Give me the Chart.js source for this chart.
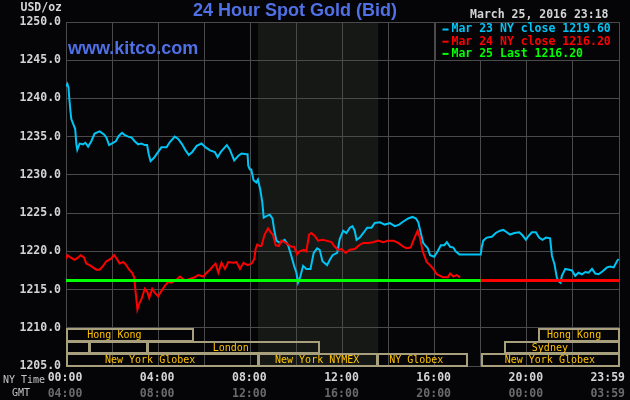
<!DOCTYPE html>
<html>
<head>
<meta charset="utf-8">
<script src="https://cdn.jsdelivr.net/npm/chart.js@4.4.1/dist/chart.umd.min.js"></script>
<style>
  html, body { margin: 0; padding: 0; background: #050508; }
  canvas { display: block; }
</style>
</head>
<body>
<canvas id="c" width="630" height="400"></canvas>
<script>
// ---------- DATA ----------
const cyanHours = [0.00,0.06,0.11,0.14,0.19,0.23,0.32,0.40,0.45,0.49,0.59,0.74,0.84,0.96,1.10,1.24,1.46,1.65,1.75,1.87,2.04,2.16,2.29,2.43,2.55,2.70,2.84,2.98,3.13,3.27,3.42,3.52,3.59,3.67,3.81,4.00,4.14,4.36,4.51,4.72,4.87,5.04,5.19,5.33,5.48,5.67,5.88,6.06,6.25,6.46,6.58,6.72,6.98,7.11,7.30,7.48,7.62,7.84,7.88,7.91,7.98,8.04,8.14,8.26,8.33,8.43,8.52,8.58,8.70,8.84,8.96,9.03,9.13,9.27,9.49,9.64,9.78,9.90,10.00,10.07,10.17,10.29,10.43,10.61,10.75,10.90,11.01,11.13,11.33,11.45,11.57,11.77,11.88,12.03,12.17,12.32,12.43,12.53,12.61,12.75,12.93,13.07,13.26,13.40,13.62,13.84,14.06,14.27,14.46,14.64,14.85,15.04,15.19,15.29,15.39,15.50,15.58,15.70,15.80,15.98,16.13,16.27,16.42,16.53,16.67,16.81,16.91,17.07,18.00,18.04,18.11,18.26,18.48,18.65,18.84,18.98,19.13,19.27,19.46,19.67,19.81,19.96,20.07,20.22,20.39,20.53,20.68,20.83,21.01,21.09,21.20,21.30,21.37,21.46,21.52,21.67,21.84,21.96,22.10,22.24,22.39,22.54,22.68,22.83,22.97,23.11,23.29,23.48,23.62,23.77,23.91,23.98];
const cyanValues = [1241.6,1241.9,1241.4,1240.1,1238.4,1237.3,1236.6,1236.0,1234.0,1233.3,1234.1,1234.0,1234.2,1233.7,1234.4,1235.4,1235.7,1235.3,1234.9,1233.9,1234.2,1234.4,1235.1,1235.5,1235.2,1235.0,1234.9,1234.4,1234.0,1234.1,1233.9,1233.9,1232.7,1231.8,1232.2,1233.0,1233.6,1233.6,1234.3,1235.0,1234.7,1234.0,1233.2,1232.6,1233.0,1233.8,1234.1,1233.6,1233.2,1233.0,1232.3,1233.0,1233.9,1233.3,1231.9,1232.5,1232.8,1232.7,1232.7,1231.2,1230.7,1230.7,1229.3,1229.0,1229.4,1228.1,1226.4,1224.4,1224.6,1224.8,1224.3,1222.9,1221.4,1221.1,1221.5,1220.8,1219.4,1218.1,1217.2,1215.9,1216.7,1218.1,1217.7,1217.7,1219.8,1220.4,1220.2,1218.7,1218.2,1218.9,1219.5,1219.8,1221.6,1222.7,1222.4,1223.1,1223.3,1222.7,1221.5,1221.8,1222.5,1223.1,1223.1,1223.7,1223.8,1223.5,1223.7,1223.3,1223.5,1223.9,1224.3,1224.5,1224.3,1223.8,1222.5,1221.1,1220.8,1220.4,1219.5,1219.3,1220.0,1220.8,1220.8,1221.2,1220.6,1220.5,1220.0,1219.6,1219.6,1220.5,1221.4,1221.8,1221.9,1222.4,1222.7,1222.8,1222.5,1222.2,1222.4,1222.5,1222.1,1221.5,1222.0,1222.5,1222.5,1221.8,1221.5,1221.8,1221.7,1219.4,1218.3,1216.6,1216.1,1215.9,1216.8,1217.7,1217.6,1217.5,1216.8,1217.2,1217.0,1217.3,1217.2,1217.7,1217.1,1217.0,1217.4,1217.9,1218.0,1217.9,1218.7,1219.0];

const redHours = [0.00,0.06,0.20,0.37,0.49,0.64,0.78,0.88,1.03,1.17,1.32,1.46,1.61,1.75,1.94,2.09,2.19,2.33,2.48,2.59,2.74,2.87,2.96,3.01,3.10,3.17,3.27,3.42,3.53,3.61,3.74,3.85,4.00,4.14,4.29,4.43,4.58,4.80,4.94,5.16,5.37,5.59,5.74,5.96,6.10,6.25,6.39,6.49,6.61,6.75,6.90,7.04,7.26,7.40,7.55,7.70,7.88,8.06,8.17,8.23,8.30,8.40,8.48,8.62,8.77,8.91,8.98,9.10,9.24,9.35,9.49,9.64,9.78,9.90,10.03,10.14,10.32,10.43,10.55,10.65,10.80,10.94,11.13,11.30,11.52,11.67,11.81,11.96,12.14,12.32,12.53,12.72,12.90,13.11,13.33,13.55,13.77,13.98,14.20,14.42,14.64,14.78,14.96,15.10,15.26,15.36,15.48,15.58,15.65,15.80,15.94,16.09,16.23,16.37,16.57,16.67,16.81,16.96,17.10];
const redValues = [1219.0,1219.5,1219.2,1218.9,1219.1,1219.5,1219.2,1218.4,1218.2,1217.9,1217.6,1217.6,1218.1,1218.7,1219.0,1219.5,1219.1,1218.4,1218.6,1218.3,1217.6,1217.2,1216.6,1215.0,1212.4,1213.1,1213.7,1215.1,1214.7,1213.9,1215.1,1214.6,1214.1,1214.8,1215.5,1216.0,1215.9,1216.3,1216.7,1216.2,1216.4,1216.6,1216.9,1216.7,1217.2,1217.6,1218.1,1218.4,1217.2,1218.5,1217.7,1218.6,1218.5,1218.6,1217.7,1218.5,1218.2,1218.4,1219.0,1220.3,1220.9,1220.7,1220.7,1222.2,1223.0,1222.4,1222.2,1220.8,1220.7,1221.4,1221.2,1220.9,1220.6,1220.6,1219.6,1220.0,1220.2,1220.0,1222.2,1222.4,1222.0,1221.4,1221.5,1221.4,1221.2,1220.6,1220.2,1220.3,1219.8,1220.2,1220.3,1220.8,1221.1,1221.1,1221.2,1221.4,1221.2,1221.4,1221.4,1221.1,1220.6,1220.4,1220.5,1221.6,1222.7,1221.8,1220.0,1219.2,1218.6,1218.2,1217.7,1217.0,1216.8,1216.6,1216.6,1217.1,1216.7,1216.9,1216.6];

const redCloseHours = [18, 24];
const redCloseValues = [1216.2, 1216.2];
const greenHours = [0, 18];
const greenValues = [1216.2, 1216.2];

const legendLabels = ['Mar 23 NY close 1219.60', 'Mar 24 NY close 1216.20', 'Mar 25 Last 1216.20'];

const yTicks = [1205,1210,1215,1220,1225,1230,1235,1240,1245,1250];
const xTickHours = [0, 4, 8, 12, 16, 20, 23.983];
const nyTimeLabels = ['00:00','04:00','08:00','12:00','16:00','20:00','23:59'];
const gmtLabels = ['04:00','08:00','12:00','16:00','20:00','00:00','03:59'];

// market sessions (hours NY time), row 0 = top
const sessionNames = ['Hong Kong','Hong Kong','','','London','Sydney','New York Globex','New York NYMEX','NY Globex','New York Globex'];
const sessionStart = [0, 20.5, 0, 1, 3.5, 19, 0, 8.33, 13.5, 18];
const sessionEnd   = [5.5, 24, 1, 3.5, 11, 24, 8.33, 13.5, 17.4, 24];
const sessionRow   = [0, 0, 1, 1, 1, 1, 2, 2, 2, 2];
const sessionLabelAt = [2.1, 22.05, 0, 0, 7.15, 21.0, 3.65, 10.9, 15.2, 21.0];

const pitStart = 8.333, pitEnd = 13.55;

// ---------- CHART ----------
const MONO = '"DejaVu Sans Mono", monospace';
const toXY = (hs, vs) => hs.map((h, i) => ({ x: h, y: vs[i] }));

const decor = {
  id: 'decor',
  beforeDraw(chart) {
    const { ctx, chartArea: a, scales: { x } } = chart;
    ctx.save();
    ctx.fillStyle = '#050508';
    ctx.fillRect(0, 0, chart.width, chart.height);
    const x0 = x.getPixelForValue(pitStart), x1 = x.getPixelForValue(pitEnd);
    ctx.fillStyle = '#151815';
    ctx.fillRect(x0, a.top, x1 - x0, a.bottom - a.top);
    ctx.restore();
  },
  afterDraw(chart) {
    const { ctx, chartArea: a, scales: { x, y } } = chart;
    ctx.save();
    // sessions
    const rowH = 5 / 3;
    ctx.lineWidth = 2;
    ctx.strokeStyle = '#A8A07C';
    ctx.textBaseline = 'middle';
    ctx.textAlign = 'center';
    ctx.font = '10px ' + MONO;
    for (let i = 0; i < sessionNames.length; i++) {
      const top = 1210 - sessionRow[i] * rowH;
      const yt = Math.round(y.getPixelForValue(top));
      const yb = Math.round(y.getPixelForValue(top - rowH));
      const xl = Math.round(x.getPixelForValue(sessionStart[i]));
      const xr = Math.round(x.getPixelForValue(sessionEnd[i]));
      ctx.strokeRect(xl + 1, yt + 1, xr - xl - 1, yb - yt - 1);
      if (sessionNames[i]) {
        ctx.fillStyle = '#FFC400';
        ctx.fillText(sessionNames[i], x.getPixelForValue(sessionLabelAt[i]), (yt + yb) / 2 + 1);
      }
    }
    // legend box
    const lx0 = Math.round(x.getPixelForValue(16)) + 0.5;
    const lx1 = Math.round(x.getPixelForValue(24)) + 0.5;
    const ly0 = Math.round(y.getPixelForValue(1250)) + 0.5;
    const ly1 = Math.round(y.getPixelForValue(1245)) + 0.5;
    ctx.fillStyle = '#050508';
    ctx.fillRect(lx0, ly0, lx1 - lx0, ly1 - ly0);
    ctx.strokeStyle = '#4A4A4A';
    ctx.lineWidth = 1;
    ctx.strokeRect(lx0, ly0, lx1 - lx0, ly1 - ly0);
    const legendIdx = [0, 1, 3];
    ctx.font = 'bold 11.5px ' + MONO;
    ctx.textAlign = 'left';
    legendIdx.forEach((di, k) => {
      const ds = chart.data.datasets[di];
      const yy = ly0 + 7 + k * 12.2;
      ctx.fillStyle = ds.borderColor;
      ctx.fillRect(lx0 + 7, yy - 1, 6, 2);
      ctx.fillText(legendLabels[k], lx0 + 16, yy);
    });
    // titles
    ctx.textAlign = 'center';
    ctx.font = 'bold 18px "Liberation Sans", Arial, sans-serif';
    ctx.fillStyle = '#5070E6';
    ctx.fillText('24 Hour Spot Gold (Bid)', 295, 11.5);
    ctx.textAlign = 'left';
    ctx.fillText('www.kitco.com', 68, 49.5);
    ctx.font = 'bold 11.5px ' + MONO;
    ctx.fillStyle = '#D4D4D4';
    ctx.fillText('USD/oz', 20.5, 8);
    ctx.textAlign = 'right';
    ctx.fillText('March 25, 2016 23:18', 608.5, 15);
    // x labels
    ctx.textAlign = 'center';
    xTickHours.forEach((h, i) => {
      let px = x.getPixelForValue(h) - 1;
      const w = ctx.measureText(nyTimeLabels[i]).width;
      px = Math.min(px, chart.width - 5 - w / 2);
      ctx.fillStyle = '#D4D4D4';
      ctx.fillText(nyTimeLabels[i], px, 378);
      ctx.fillStyle = '#6A6A6A';
      ctx.fillText(gmtLabels[i], px, 394);
    });
    ctx.textAlign = 'left';
    ctx.font = '10px ' + MONO;
    ctx.fillStyle = '#C4C4C4';
    ctx.fillText('NY Time', 3, 380);
    ctx.fillText('GMT', 12, 393.5);
    ctx.restore();
  }
};

new Chart(document.getElementById('c'), {
  type: 'line',
  data: {
    datasets: [
      { label: legendLabels[0], data: toXY(cyanHours, cyanValues), borderColor: '#00C4F4', borderWidth: 2, order: 3 },
      { label: legendLabels[1], data: toXY(redHours, redValues), borderColor: '#FF0000', borderWidth: 2, order: 2 },
      { label: 'close', data: toXY(redCloseHours, redCloseValues), borderColor: '#FF0000', borderWidth: 3, order: 1 },
      { label: legendLabels[2], data: toXY(greenHours, greenValues), borderColor: '#00FF00', borderWidth: 3, order: 1 }
    ]
  },
  options: {
    responsive: false,
    animation: false,
    devicePixelRatio: 1,
    layout: { padding: { top: 22, right: 11, left: 0, bottom: 0 } },
    elements: { point: { radius: 0 }, line: { tension: 0, borderJoinStyle: 'miter' } },
    plugins: { legend: { display: false }, tooltip: { enabled: false } },
    scales: {
      x: {
        type: 'linear', min: 0, max: 24,
        ticks: { display: false, stepSize: 2 },
        grid: { color: '#4A4A4A', drawTicks: false, lineWidth: 1 },
        border: { display: false },
        afterFit(s) { s.height = 34; }
      },
      y: {
        type: 'linear', min: 1205, max: 1250,
        afterBuildTicks(s) { s.ticks = yTicks.map(v => ({ value: v })); },
        ticks: {
          callback: v => Number(v).toFixed(1),
          color: '#D4D4D4',
          font: { family: 'DejaVu Sans Mono', size: 11.5, weight: 'bold' },
          padding: 5
        },
        grid: { color: '#4A4A4A', drawTicks: false, lineWidth: 1 },
        border: { display: false },
        afterFit(s) { s.width = 66; }
      }
    }
  },
  plugins: [decor]
});
</script>
</body>
</html>
